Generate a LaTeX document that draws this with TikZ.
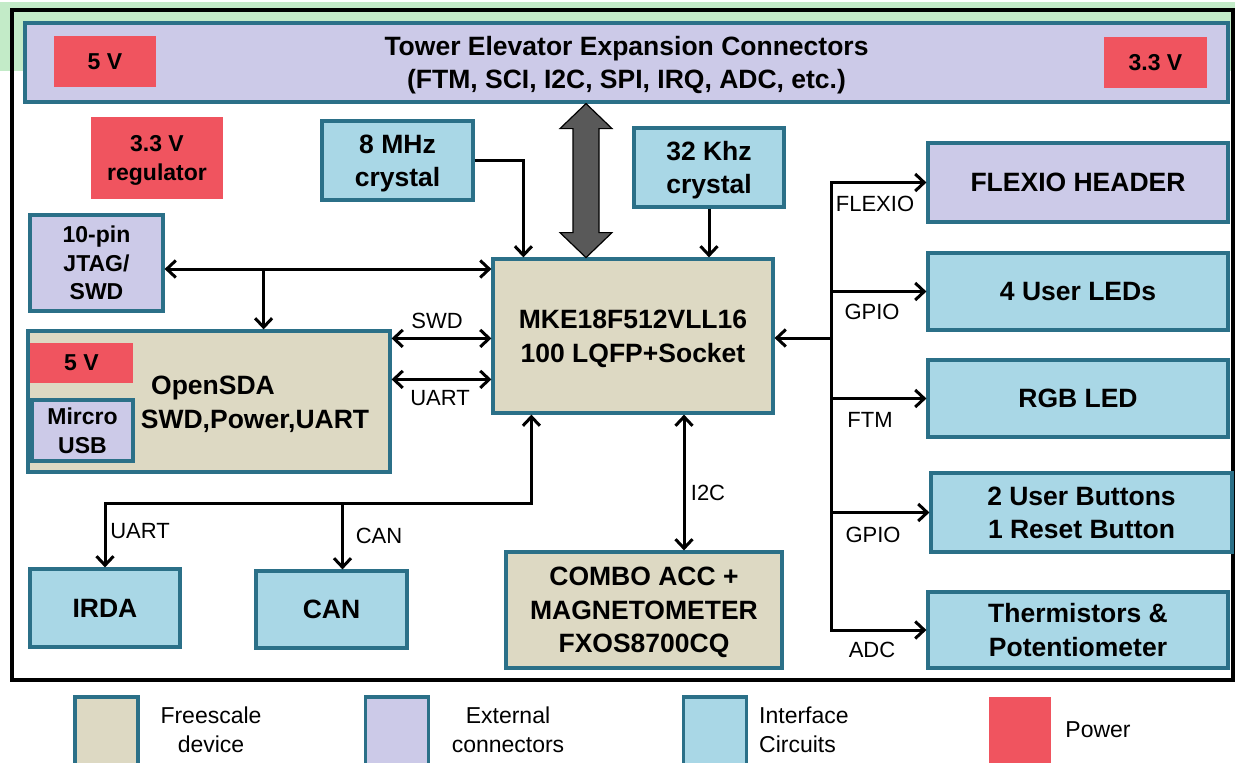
\documentclass[tikz,border=0pt]{standalone}
\usepackage{fontspec}
\setmainfont{Liberation Sans}
\usetikzlibrary{arrows.meta,calc}
\definecolor{ECTan}{HTML}{DDD9C3}
\definecolor{ECLav}{HTML}{CCCAE8}
\definecolor{ECBlue}{HTML}{A9D7E6}
\definecolor{ECRed}{HTML}{F0545F}
\definecolor{ECEdge}{HTML}{2B7088}
\definecolor{ECGreen}{HTML}{C3EBC8}
\definecolor{ECBus}{HTML}{595959}
\newcommand\boxfont{\fontsize{26.5}{33.5}\selectfont\bfseries}
\newcommand\smallboxfont{\fontsize{23}{28.5}\selectfont\bfseries}
\newcommand\sigfont{\fontsize{22}{26}\selectfont}
\newcommand\keyfont{\fontsize{23}{29}\selectfont}
\tikzset{
  box/.style={draw=ECEdge,line width=3.2pt,text=black,align=center,font=\boxfont,inner sep=0pt,
              text depth=0pt},
  devbox/.style={box,fill=ECTan},
  extbox/.style={box,fill=ECLav},
  ifbox/.style={box,fill=ECBlue},
  pwrbox/.style={fill=ECRed,text=black,align=center,font=\smallboxfont,inner sep=0pt,text depth=0pt},
  sig/.style={line width=3pt},
  siglabel/.style={font=\sigfont,inner sep=0pt},
  keybox/.style={draw=ECEdge,line width=3.2pt,minimum width=63pt,minimum height=75pt},
  keytext/.style={font=\keyfont,align=center,inner sep=0pt},
}

\begin{document}
\begin{tikzpicture}[x=1pt,y=-1pt,>={Straight Barb[length=9pt,width=17pt]}]
  \useasboundingbox (0,0) rectangle (1235,763);
  \fill[ECGreen] (0,2) rectangle (1235,71);
  \draw[line width=4pt] (12,10) rectangle (1233,680);

  % expansion connectors, power
  \node[extbox,minimum width=1203pt,minimum height=79pt] (tower) at (626.5,62.5)
    {Tower Elevator Expansion Connectors\\(FTM, SCI, I2C, SPI, IRQ, ADC, etc.)};
  \node[pwrbox,minimum width=102pt,minimum height=51pt] (pwrA) at (105,61.5) {5 V};
  \node[pwrbox,minimum width=103pt,minimum height=51pt] (pwrB) at (1155.5,62.5) {3.3 V};
  \node[pwrbox,minimum width=132pt,minimum height=82pt] (reg) at (157,158) {3.3 V\\regulator};

  % clocks and mcu
  \node[ifbox,minimum width=151pt,minimum height=79pt] (xtalA) at (397.5,160.5) {8 MHz\\crystal};
  \node[ifbox,minimum width=150pt,minimum height=79pt] (xtalB) at (709,167.5) {32 Khz\\crystal};
  \node[devbox,minimum width=280pt,minimum height=154pt] (mcu) at (633,336)
    {MKE18F512VLL16\\100 LQFP+Socket};

  % debug side
  \node[extbox,font=\smallboxfont,minimum width=133pt,minimum height=96pt] (jtag) at (96.5,263)
    {10-pin\\JTAG/\\SWD};
  \node[devbox,minimum width=362pt,minimum height=141pt] (osda) at (209,401.5) {};
  \node[pwrbox,minimum width=103pt,minimum height=40pt] (pwrC) at (81.5,363) {5 V};
  \node[extbox,font=\smallboxfont,minimum width=101pt,minimum height=61pt] (usb) at (82.5,430.5)
    {Mircro\\USB};
  \node[font=\boxfont,anchor=base,inner sep=0pt] (osdaA) at (213,394) {OpenSDA};
  \node[font=\boxfont,anchor=base,inner sep=0pt] (osdaB) at (255,428) {SWD,Power,UART};

  % peripherals right
  \node[extbox,minimum width=300pt,minimum height=79pt] (flexio) at (1078,182.5) {FLEXIO HEADER};
  \node[ifbox,minimum width=300pt,minimum height=77pt] (leds) at (1078,291.5) {4 User LEDs};
  \node[ifbox,minimum width=300pt,minimum height=77pt] (rgb) at (1078,398.5) {RGB LED};
  \node[ifbox,minimum width=301pt,minimum height=79pt] (btns) at (1081.5,512.5)
    {2 User Buttons\\1 Reset Button};
  \node[ifbox,minimum width=300pt,minimum height=76pt] (therm) at (1078,630)
    {Thermistors \&\\Potentiometer};

  % peripherals bottom
  \node[ifbox,minimum width=150pt,minimum height=78pt] (irda) at (105,608) {IRDA};
  \node[ifbox,minimum width=151pt,minimum height=77pt] (can) at (331.5,609.5) {CAN};
  \node[devbox,minimum width=276pt,minimum height=116pt] (combo) at (644,610)
    {COMBO ACC +\\MAGNETOMETER\\FXOS8700CQ};

  % big bus to tower
  \coordinate (bt) at ($(tower.south)+(-40.5,0)$);
  \filldraw[fill=ECBus,draw=black,line width=1.2pt] (bt) -- ++(26,25) -- ++(-13,0) -- ++(0,104)
    -- ++(13,0) -- ++(-26,25) -- ++(-26,-25) -- ++(13,0) -- ++(0,-104) -- ++(-13,0) -- cycle;

  % jtag / opensda links
  \coordinate (jt) at ($(jtag.east)+(0,6)$);
  \draw[sig,<->] (jt) -- (jt -| mcu.west);
  \coordinate (jb) at ($(jt)+(99,0)$);
  \draw[sig,->] (jb) -- (jb |- osda.north);
  \coordinate (sw) at ($(osda.north east)+(0,9)$);
  \draw[sig,<->] (sw) -- (sw -| mcu.west);
  \coordinate (ua) at ($(osda.north east)+(0,50)$);
  \draw[sig,<->] (ua) -- (ua -| mcu.west);

  % clocks
  \draw[sig,->] (xtalA.east) -| ($(mcu.north west)+(32,0)$);
  \draw[sig,->] (xtalB.south) -- (xtalB.south |- mcu.north);

  % right bus
  \coordinate (bus) at ($(mcu.east)+(57,2)$);
  \draw[sig,->] (bus) -- (bus -| mcu.east);
  \draw[sig,<->] (flexio.west) -| (bus |- therm.west) -- (therm.west);
  \foreach \n in {leds,rgb,btns}
    \draw[sig,->] (bus |- \n.west) -- (\n.west);

  % bottom links
  \coordinate (lb) at ($(mcu.south west)+(40,89)$);
  \draw[sig,<->] (irda.north) |- (lb) -- (lb |- mcu.south);
  \coordinate (cb) at ($(lb -| can.north)+(11,0)$);
  \draw[sig,->] (cb) -- (cb |- can.north);
  \coordinate (ic) at ($(combo.north)+(40,0)$);
  \draw[sig,<->] (ic |- mcu.south) -- (ic);

  % signal labels
  \node[siglabel] (lSWD) at (437,321) {SWD};
  \node[siglabel] (lUART) at (440,398) {UART};
  \node[siglabel] (lFLEX) at (875,204) {FLEXIO};
  \node[siglabel] (lGPIOa) at (872,312) {GPIO};
  \node[siglabel] (lFTM) at (870,420) {FTM};
  \node[siglabel] (lGPIOb) at (873,535) {GPIO};
  \node[siglabel] (lADC) at (872,650) {ADC};
  \node[siglabel] (lUARTb) at (140,531) {UART};
  \node[siglabel] (lCAN) at (379,536) {CAN};
  \node[siglabel] (lI2C) at (708,493) {I2C};

  % legend
  \node[keybox,fill=ECTan] (keyA) at (106.5,734.5) {};
  \node[keybox,fill=ECLav] (keyB) at (397,734.5) {};
  \node[keybox,fill=ECBlue] (keyC) at (715,734.5) {};
  \node[fill=ECRed,minimum width=62pt,minimum height=75pt] (keyD) at (1020,734.5) {};
  \node[keytext] (keyAt) at (211,730) {Freescale\\device};
  \node[keytext] (keyBt) at (508,730) {External\\connectors};
  \node[keytext,anchor=west,align=left] (keyCt) at (759,730) {Interface\\Circuits};
  \node[keytext] (keyDt) at (1098,730) {Power};
\end{tikzpicture}
\end{document}
